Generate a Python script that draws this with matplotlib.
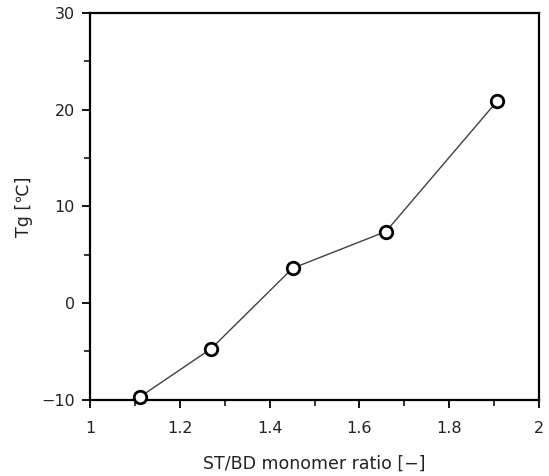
import matplotlib.pyplot as plt
from matplotlib.ticker import MultipleLocator

# ST/BD monomer ratio vs glass transition temperature
ratio = [1.111, 1.270, 1.451, 1.659, 1.907]
tg = [-9.7, -4.7, 3.6, 7.4, 20.9]

x_ticks = [1, 1.2, 1.4, 1.6, 1.8, 2]
x_tick_labels = ['1', '1.2', '1.4', '1.6', '1.8', '2']
y_ticks = [-10, 0, 10, 20, 30]

fig = plt.figure(figsize=(5.49, 4.76), dpi=100)
ax = fig.add_axes([0.164, 0.160, 0.818, 0.813])

ax.plot(ratio, tg, color='#404040', linewidth=1.0, zorder=2)
ax.plot(ratio, tg, linestyle='none', marker='o', markersize=9,
        markerfacecolor='white', markeredgecolor='black', markeredgewidth=2.0,
        clip_on=False, zorder=3)

ax.set_xlim(1, 2)
ax.set_ylim(-10, 30)
ax.set_xticks(x_ticks)
ax.set_xticklabels(x_tick_labels)
ax.set_yticks(y_ticks)
ax.xaxis.set_minor_locator(MultipleLocator(0.1))
ax.yaxis.set_minor_locator(MultipleLocator(5))

ax.tick_params(which='major', direction='out', length=6, width=1.3, labelsize=11.5, pad=5,
               labelcolor='#222222')
ax.tick_params(axis='x', which='major', pad=9)
ax.tick_params(which='minor', direction='out', length=4, width=1.1)
for s in ax.spines.values():
    s.set_linewidth(1.6)

ax.set_xlabel('ST/BD monomer ratio [−]', fontsize=12.5, labelpad=14, color='#222222')
ax.set_ylabel('Tg [℃]', fontsize=12.5, labelpad=6, color='#222222')

fig.savefig('out.png', dpi=100)
